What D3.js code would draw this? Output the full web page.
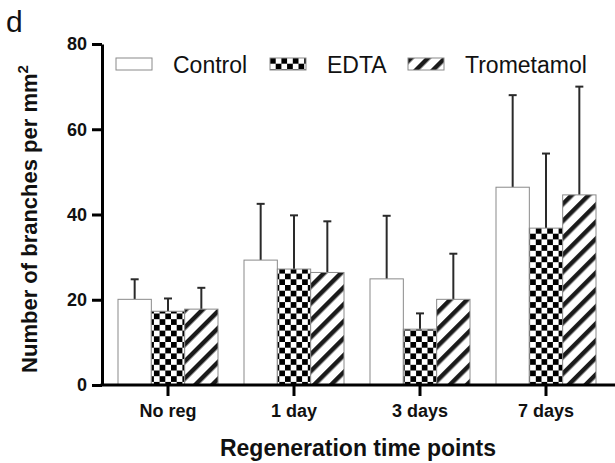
<!DOCTYPE html>
<html>
<head>
<meta charset="utf-8">
<script src="https://cdn.jsdelivr.net/npm/d3@7"></script>
<style>
    body { margin: 0; background: #fff; }
    text { font-family: "Liberation Sans", Arial, sans-serif; }
</style>
</head>
<body>
<svg id="chart" width="615" height="463"></svg>
<script>
// 数据
const timePoints = ["No reg", "1 day", "3 days", "7 days"];
const groups = ["Control", "EDTA", "Trometamol"];
const meanControl = [20.1, 29.3, 24.9, 46.4];
const meanEDTA = [17.3, 27.2, 13.1, 36.8];
const meanTrom = [17.8, 26.4, 20.1, 44.6];
const upperControl = [24.8, 42.5, 39.7, 68.0];
const upperEDTA = [20.3, 39.8, 16.8, 54.3];
const upperTrom = [22.8, 38.4, 30.8, 70.0];
const yTicks = [0, 20, 40, 60, 80];

const means = [meanControl, meanEDTA, meanTrom];
const uppers = [upperControl, upperEDTA, upperTrom];

const svg = d3.select("#chart");
const defs = svg.append("defs");

// 棋盘格
const chk = defs.append("pattern")
    .attr("id", "checker")
    .attr("patternUnits", "userSpaceOnUse")
    .attr("width", 11.4)
    .attr("height", 11.4);
chk.append("rect").attr("width", 11.4).attr("height", 11.4).attr("fill", "#fff");
chk.append("rect").attr("width", 5.7).attr("height", 5.7).attr("fill", "#000");
chk.append("rect").attr("x", 5.7).attr("y", 5.7).attr("width", 5.7).attr("height", 5.7).attr("fill", "#000");

// 斜线
const hat = defs.append("pattern")
    .attr("id", "hatch")
    .attr("patternUnits", "userSpaceOnUse")
    .attr("width", 12)
    .attr("height", 12)
    .attr("patternTransform", "rotate(45)");
hat.append("rect").attr("width", 12).attr("height", 12).attr("fill", "#fff");
hat.append("rect").attr("width", 4.5).attr("height", 12).attr("fill", "#1a1a1a");

const fills = ["#fff", "url(#checker)", "url(#hatch)"];

const x = d3.scaleBand().domain(timePoints).range([105, 609]).paddingInner(0).paddingOuter(0);
const xs = d3.scaleBand().domain(groups).range([0, 100]);
const xOff = (x.bandwidth() - 100) / 2;
const y = d3.scaleLinear().domain([0, 80]).range([385, 44]);

// 柱子
groups.forEach(function (g, gi) {
    const gg = svg.append("g").attr("class", "series");
    gg.selectAll("line.err")
        .data(timePoints)
        .join("line")
        .attr("x1", d => x(d) + xOff + xs(g) + xs.bandwidth() / 2)
        .attr("x2", d => x(d) + xOff + xs(g) + xs.bandwidth() / 2)
        .attr("y1", (d, i) => y(means[gi][i]))
        .attr("y2", (d, i) => y(uppers[gi][i]))
        .attr("stroke", "#2a2a2a")
        .attr("stroke-width", 2);
    gg.selectAll("line.cap")
        .data(timePoints)
        .join("line")
        .attr("x1", d => x(d) + xOff + xs(g) + xs.bandwidth() / 2 - 4)
        .attr("x2", d => x(d) + xOff + xs(g) + xs.bandwidth() / 2 + 4)
        .attr("y1", (d, i) => y(uppers[gi][i]))
        .attr("y2", (d, i) => y(uppers[gi][i]))
        .attr("stroke", "#2a2a2a")
        .attr("stroke-width", 2);
    gg.selectAll("rect")
        .data(timePoints)
        .join("rect")
        .attr("x", d => x(d) + xOff + xs(g))
        .attr("y", (d, i) => y(means[gi][i]))
        .attr("width", xs.bandwidth())
        .attr("height", (d, i) => y(0) - y(means[gi][i]))
        .attr("fill", fills[gi])
        .attr("stroke", "#8a8a8a")
        .attr("stroke-width", 1);
});

// y轴
const yAxis = svg.append("g")
    .attr("transform", "translate(102,0)")
    .call(d3.axisLeft(y).tickValues(yTicks).tickSize(10).tickPadding(5).tickSizeOuter(0));
yAxis.select(".domain").attr("stroke", "#000").attr("stroke-width", 3);
yAxis.selectAll(".tick line").attr("stroke", "#000").attr("stroke-width", 3);
yAxis.selectAll(".tick text")
    .attr("font-size", 18)
    .attr("font-weight", "bold")
    .attr("font-family", "Liberation Sans, Arial, sans-serif")
    .attr("fill", "#111");

// x轴
svg.append("line")
    .attr("x1", 100.5).attr("x2", 615)
    .attr("y1", y(0)).attr("y2", y(0))
    .attr("stroke", "#000").attr("stroke-width", 3);
const xTick = svg.append("g").selectAll("g").data(timePoints).join("g")
    .attr("transform", d => `translate(${x(d) + x.bandwidth() / 2},${y(0)})`);
xTick.append("line").attr("y1", 0).attr("y2", 11).attr("stroke", "#000").attr("stroke-width", 3);
xTick.append("text")
    .text(d => d)
    .attr("y", 32)
    .attr("text-anchor", "middle")
    .attr("font-size", 18)
    .attr("font-weight", "bold")
    .attr("fill", "#111");

// 轴标题
svg.append("text")
    .text("Regeneration time points")
    .attr("x", 358).attr("y", 456)
    .attr("text-anchor", "middle")
    .attr("font-size", 23)
    .attr("font-weight", "bold")
    .attr("fill", "#111");

const yTitle = svg.append("text")
    .attr("transform", "translate(37,219) rotate(-90)")
    .attr("text-anchor", "middle")
    .attr("font-size", 22)
    .attr("font-weight", "bold")
    .attr("fill", "#111");
yTitle.append("tspan").text("Number of branches per mm");
yTitle.append("tspan").text("2").attr("font-size", 15).attr("dy", -9);

svg.append("text")
    .text("d")
    .attr("x", 6).attr("y", 32)
    .attr("font-size", 30)
    .attr("fill", "#111");

// 图例
const legendX = [116, 270, 408];
const legend = svg.append("g").selectAll("g").data(groups).join("g")
    .attr("transform", (d, i) => `translate(${legendX[i]},58)`);
legend.append("rect")
    .attr("width", 36).attr("height", 12)
    .attr("fill", (d, i) => fills[i])
    .attr("stroke", "#8a8a8a").attr("stroke-width", 1);
legend.append("text")
    .text(d => d)
    .attr("x", 57).attr("y", 15)
    .attr("font-size", 23)
    .attr("fill", "#111");
</script>
</body>
</html>
